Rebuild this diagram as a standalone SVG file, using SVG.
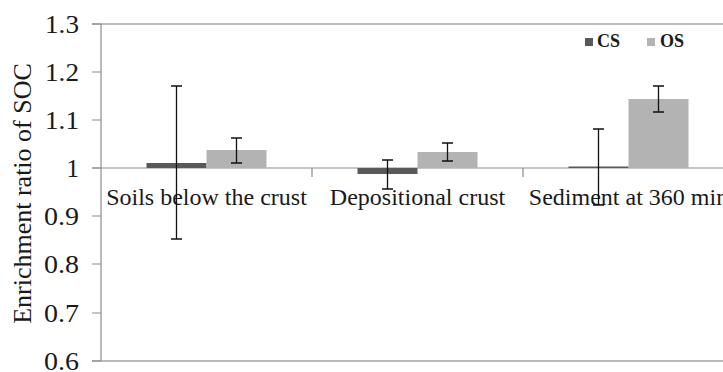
<svg xmlns="http://www.w3.org/2000/svg" width="723" height="372" viewBox="0 0 723 372">
<style>
.tick{font-size:25px;text-anchor:end}
.cat{font-size:24px;text-anchor:middle}
.leg{font-size:18px;font-weight:bold}
.ax{stroke:#8c8c8c;stroke-width:1.2;fill:none}
.frame{stroke:#a6a6a6;stroke-width:1.5;fill:none}
.cs{fill:#595959}
.os{fill:#b3b3b3}
.eb{stroke:#111;stroke-width:1.3;fill:none}
</style>
<rect width="723" height="372" fill="#fff"/>
<g id="axes">
<line class="frame" x1="92" y1="24" x2="723" y2="24"/>
<line class="frame" x1="92" y1="361" x2="723" y2="361"/>
<line class="ax" x1="101" y1="24" x2="101" y2="361"/>
<path class="ax" d="M92 24H101M92 72H101M92 120H101M92 168H101M92 216H101M92 264H101M92 313H101M92 361H101"/>
<line class="ax" x1="92" y1="168" x2="723" y2="168"/>
<path class="ax" d="M312 168V177M523 168V177"/>
</g>
<g id="tick-labels" class="tick" font-family="Liberation Serif" fill="#1a1a1a">
<text x="79" y="33" textLength="34" lengthAdjust="spacingAndGlyphs">1.3</text>
<text x="79" y="81" textLength="34" lengthAdjust="spacingAndGlyphs">1.2</text>
<text x="79" y="129" textLength="34" lengthAdjust="spacingAndGlyphs">1.1</text>
<text x="79" y="177">1</text>
<text x="79" y="225" textLength="35" lengthAdjust="spacingAndGlyphs">0.9</text>
<text x="79" y="273" textLength="35" lengthAdjust="spacingAndGlyphs">0.8</text>
<text x="79" y="322" textLength="35" lengthAdjust="spacingAndGlyphs">0.7</text>
<text x="79" y="370" textLength="35" lengthAdjust="spacingAndGlyphs">0.6</text>
</g>
<text id="y-title" font-family="Liberation Serif" fill="#1a1a1a" font-size="26" text-anchor="middle" transform="translate(31 193.5) rotate(-90)">Enrichment ratio of SOC</text>
<g id="category-labels" class="cat" font-family="Liberation Serif" fill="#1a1a1a">
<text x="206.5" y="205">Soils below the crust</text>
<text x="417.5" y="205">Depositional crust</text>
<text x="628.5" y="205">Sediment at 360 min</text>
</g>
<g id="bars">
<rect class="cs" x="146.5" y="163" width="60" height="5"/>
<rect class="os" x="206.5" y="150" width="60" height="18"/>
<rect class="cs" x="357.5" y="168" width="60" height="6"/>
<rect class="os" x="417.5" y="152" width="60" height="16"/>
<rect class="cs" x="568.5" y="166.5" width="60" height="1.5"/>
<rect class="os" x="628.5" y="99" width="60" height="69"/>
</g>
<g id="error-bars" class="eb">
<path d="M176.5 86V239M171 86H182M171 239H182"/>
<path d="M236.5 138V163M231 138H242M231 163H242"/>
<path d="M387.5 160V189M382 160H393M382 189H393"/>
<path d="M447.5 143V161M442 143H453M442 161H453"/>
<path d="M598.5 129V205M593 129H604M593 205H604"/>
<path d="M658.5 86V112M653 86H664M653 112H664"/>
</g>
<g id="legend">
<rect class="cs" x="585" y="38" width="8" height="8"/>
<text class="leg" font-family="Liberation Serif" fill="#1a1a1a" x="597" y="47">CS</text>
<rect class="os" x="647" y="38" width="8" height="8"/>
<text class="leg" font-family="Liberation Serif" fill="#1a1a1a" x="660" y="47">OS</text>
</g>
</svg>
